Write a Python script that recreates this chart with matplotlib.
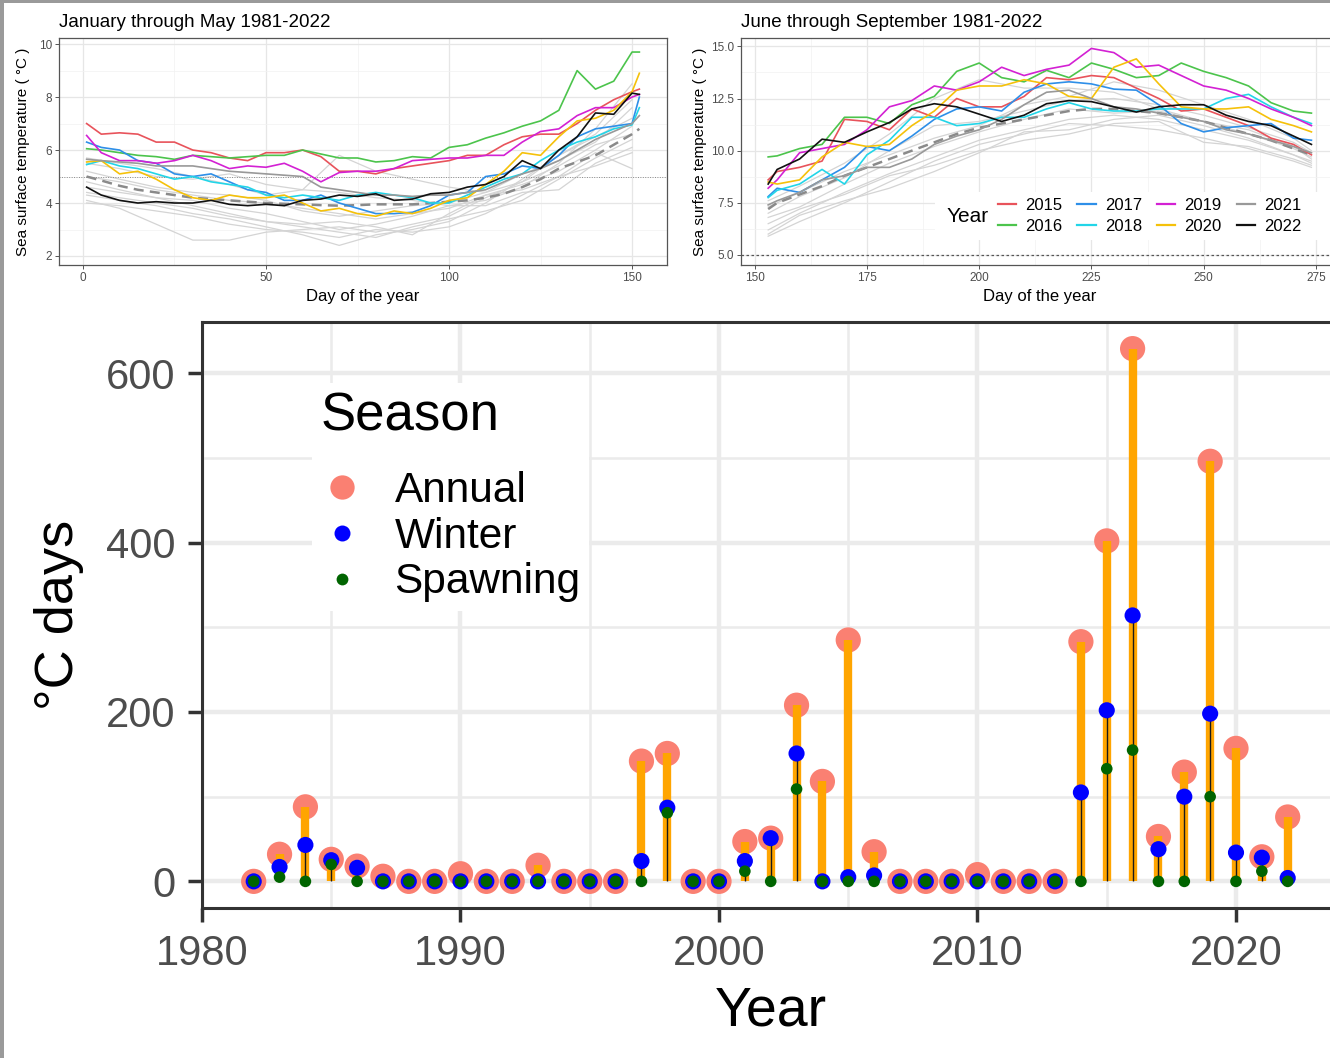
import matplotlib
matplotlib.use("Agg")
import matplotlib.pyplot as plt
from matplotlib.lines import Line2D
from matplotlib.patches import Rectangle
from matplotlib.ticker import MultipleLocator

plt.rcParams['font.family'] = ['Liberation Sans', 'DejaVu Sans']

W, H = 1330, 1058

# ---------------- bottom chart data ----------------
years = list(range(1982, 2023))
annual = [0, 32, 88, 26, 18, 6, 0, 0, 9, 0, 0, 19, 0, 0, 0, 142, 151, 0, 0, 47,
          51, 208, 118, 285, 35, 0, 0, 0, 8, 0, 0, 0, 283, 402, 629, 53, 129, 496,
          157, 29, 76]
winter = [0, 17, 43, 25, 16, 0, 0, 0, 0, 0, 0, 0, 0, 0, 0, 24, 87, 0, 0, 24,
          51, 151, 0, 5, 7, 0, 0, 0, 0, 0, 0, 0, 105, 202, 314, 38, 100, 198,
          34, 28, 4]
spawning = [0, 5, 0, 20, 0, 0, 0, 0, 0, 0, 0, 0, 0, 0, 0, 0, 81, 0, 0, 12,
            0, 109, 0, 0, 0, 0, 0, 0, 0, 0, 0, 0, 0, 133, 155, 0, 0, 100,
            0, 12, 0]
season_labels = ['Annual', 'Winter', 'Spawning']

# ---------------- top-left panel data (Jan-May) ----------------
jm_days = [1, 5, 10, 15, 20, 25, 30, 35, 40, 45, 50, 55, 60, 65, 70, 75, 80, 85,
           90, 95, 100, 105, 110, 115, 120, 125, 130, 135, 140, 145, 150, 152]
jm_2015 = [7.0, 6.6, 6.65, 6.6, 6.3, 6.3, 6.0, 5.9, 5.7, 5.6, 5.9, 5.9, 6.0, 5.75, 5.2, 5.2,
           5.1, 5.3, 5.4, 5.5, 5.6, 5.8, 5.8, 6.2, 6.5, 6.6, 6.6, 7.0, 7.5, 7.9, 8.2, 8.3]
jm_2016 = [6.05, 6.0, 5.9, 5.8, 5.75, 5.65, 5.8, 5.75, 5.7, 5.75, 5.8, 5.8, 6.0, 5.85, 5.7, 5.7,
           5.55, 5.6, 5.75, 5.7, 6.1, 6.2, 6.45, 6.65, 6.9, 7.1, 7.5, 9.0, 8.3, 8.6, 9.7, 9.7]
jm_2017 = [6.3, 6.1, 6.0, 5.6, 5.5, 5.1, 5.0, 5.1, 4.8, 4.5, 4.4, 4.1, 4.1, 4.3, 4.0, 3.8,
           3.6, 3.6, 3.65, 3.9, 4.3, 4.4, 5.0, 5.1, 5.4, 5.3, 5.8, 6.5, 6.8, 6.9, 7.0, 8.0]
jm_2018 = [5.45, 5.6, 5.4, 5.3, 5.1, 4.9, 5.0, 4.8, 4.7, 4.6, 4.3, 4.2, 4.3, 4.2, 4.1, 4.3,
           4.4, 4.3, 4.2, 4.0, 4.0, 4.3, 4.6, 4.9, 5.1, 5.6, 6.0, 6.3, 6.5, 6.8, 6.95, 7.6]
jm_2019 = [6.55, 5.9, 5.6, 5.6, 5.5, 5.6, 5.8, 5.6, 5.3, 5.4, 5.35, 5.5, 5.2, 4.8, 5.15, 5.2,
           5.2, 5.3, 5.6, 5.65, 5.7, 5.7, 5.8, 5.8, 6.3, 6.7, 6.8, 7.3, 7.6, 7.6, 8.0, 8.1]
jm_2020 = [5.55, 5.6, 5.1, 5.2, 4.9, 4.5, 4.2, 4.1, 4.3, 4.2, 4.2, 4.3, 4.0, 3.7, 3.8, 3.6,
           3.5, 3.7, 3.6, 3.8, 4.1, 4.2, 4.7, 5.2, 5.9, 5.8, 6.5, 7.1, 7.2, 7.5, 8.2, 8.9]
jm_2021 = [5.65, 5.6, 5.55, 5.5, 5.4, 5.4, 5.4, 5.3, 5.2, 5.15, 5.1, 5.05, 5.0, 4.6, 4.5, 4.4,
           4.3, 4.3, 4.25, 4.3, 4.3, 4.4, 4.5, 4.8, 5.1, 5.3, 5.6, 6.0, 6.4, 6.7, 7.0, 7.3]
jm_2022 = [4.6, 4.3, 4.1, 4.0, 4.05, 4.0, 4.0, 4.1, 3.95, 3.9, 3.95, 3.9, 4.1, 4.15, 4.3, 4.25,
           4.35, 4.1, 4.15, 4.35, 4.4, 4.6, 4.7, 5.0, 5.6, 5.3, 6.0, 6.5, 7.4, 7.35, 8.15, 8.1]
jm_mean = [5.0, 4.85, 4.65, 4.5, 4.4, 4.3, 4.2, 4.15, 4.1, 4.05, 4.0, 3.97, 3.95, 3.92, 3.9, 3.92,
           3.95, 3.95, 3.95, 4.0, 4.05, 4.1, 4.2, 4.35, 4.6, 4.9, 5.3, 5.55, 5.8, 6.2, 6.6, 6.8]
jm_bg_days = [1, 10, 20, 30, 40, 50, 60, 70, 80, 90, 100, 110, 120, 130, 140, 150]
jm_bg = [
    [4.1, 3.8, 3.2, 2.6, 2.6, 2.9, 3.0, 3.1, 2.9, 3.2, 3.5, 4.2, 4.8, 5.4, 6.2, 6.6],
    [4.3, 4.1, 3.9, 3.6, 3.4, 3.1, 2.8, 2.4, 2.8, 3.0, 3.3, 4.0, 4.9, 5.8, 6.5, 7.2],
    [4.8, 4.5, 4.2, 3.9, 3.6, 3.3, 3.2, 3.3, 3.1, 2.8, 3.6, 4.3, 4.5, 5.0, 5.9, 5.3],
    [5.2, 4.9, 4.6, 4.4, 4.3, 4.1, 3.7, 3.5, 3.7, 3.9, 4.0, 4.4, 5.1, 5.6, 6.3, 7.6],
    [5.5, 5.3, 5.0, 4.9, 5.1, 4.7, 4.5, 4.4, 4.2, 4.1, 3.9, 4.1, 4.6, 5.5, 6.8, 8.5],
    [4.6, 4.4, 4.2, 4.1, 3.8, 3.6, 3.3, 3.0, 3.2, 3.5, 3.9, 3.9, 4.4, 4.5, 5.5, 6.1],
    [5.7, 5.5, 5.3, 5.0, 4.7, 4.3, 4.5, 5.8, 5.2, 4.9, 4.6, 4.4, 4.8, 5.8, 6.6, 7.9],
    [4.4, 4.2, 4.0, 3.8, 3.5, 3.3, 3.1, 2.9, 2.7, 3.1, 3.4, 3.7, 4.1, 4.9, 5.7, 6.4],
    [5.0, 4.8, 4.5, 4.3, 4.1, 4.0, 3.8, 3.6, 3.4, 3.6, 3.8, 4.3, 4.7, 5.2, 6.0, 6.9],
    [4.0, 3.9, 3.7, 3.5, 3.2, 3.0, 2.9, 2.7, 3.0, 2.9, 3.1, 3.6, 4.3, 5.0, 5.4, 5.9],
]

# ---------------- top-right panel data (Jun-Sep) ----------------
js_days = [153, 155, 160, 165, 170, 175, 180, 185, 190, 195, 200, 205, 210, 215,
           220, 225, 230, 235, 240, 245, 250, 255, 260, 265, 270, 274]
js_2015 = [8.6, 9.0, 9.2, 9.5, 11.5, 11.4, 11.0, 12.0, 11.6, 12.5, 12.1, 12.1, 12.6, 13.5,
           13.4, 13.6, 13.5, 13.0, 12.5, 11.9, 12.0, 11.6, 11.2, 10.6, 10.3, 9.8]
js_2016 = [9.7, 9.75, 10.1, 10.3, 11.6, 11.6, 11.3, 12.2, 12.6, 13.8, 14.2, 13.5, 13.3, 13.85,
           13.5, 14.2, 13.9, 13.5, 13.6, 14.2, 13.8, 13.5, 13.1, 12.3, 11.9, 11.8]
js_2017 = [7.8, 8.2, 8.0, 8.6, 9.2, 10.2, 10.0, 10.7, 11.5, 12.0, 12.1, 11.9, 12.8, 13.2,
           13.3, 13.2, 12.95, 12.9, 12.2, 11.3, 10.9, 11.1, 11.2, 11.3, 10.6, 10.5]
js_2018 = [7.75, 8.1, 8.4, 9.1, 8.4, 9.8, 10.5, 11.6, 11.6, 11.2, 11.3, 11.6, 11.6, 12.0,
           12.3, 12.0, 11.9, 11.9, 12.0, 12.0, 12.0, 12.5, 12.7, 12.1, 11.6, 11.3]
js_2019 = [8.2, 8.6, 9.9, 10.1, 10.3, 11.0, 12.1, 12.4, 13.1, 12.9, 13.3, 14.0, 13.6, 13.9,
           14.1, 14.9, 14.7, 14.0, 14.1, 13.6, 13.1, 12.9, 12.5, 12.0, 11.6, 11.2]
js_2020 = [8.5, 8.4, 8.6, 9.7, 10.4, 10.2, 10.3, 11.2, 11.9, 12.9, 13.1, 13.1, 13.4, 13.2,
           12.6, 12.5, 14.0, 14.4, 13.2, 12.1, 12.0, 12.0, 12.1, 11.5, 11.2, 10.9]
js_2021 = [7.4, 7.6, 8.0, 8.6, 8.8, 9.2, 9.2, 9.6, 10.3, 10.7, 11.0, 11.5, 12.2, 12.8,
           12.9, 12.5, 12.1, 12.0, 11.8, 11.6, 11.4, 11.0, 10.8, 10.5, 10.2, 9.9]
js_2022 = [8.4, 9.1, 9.6, 10.55, 10.4, 10.9, 11.35, 12.0, 12.25, 12.1, 11.75, 11.4, 11.7, 12.25,
           12.4, 12.35, 12.1, 11.85, 12.1, 12.2, 12.2, 11.7, 11.4, 11.2, 10.7, 10.3]
js_mean = [7.2, 7.5, 7.9, 8.3, 8.8, 9.2, 9.6, 10.0, 10.4, 10.8, 11.1, 11.3, 11.5, 11.7,
           11.9, 12.0, 12.0, 11.9, 11.8, 11.6, 11.4, 11.1, 10.8, 10.5, 10.1, 9.8]
js_bg_days = [153, 160, 170, 180, 190, 200, 210, 220, 230, 240, 250, 260, 270, 274]
js_bg = [
    [5.9, 6.6, 7.5, 8.5, 9.5, 10.3, 10.8, 11.3, 11.2, 11.0, 10.6, 10.1, 9.5, 9.2],
    [6.2, 7.0, 8.0, 8.9, 9.7, 10.5, 11.0, 11.5, 11.7, 11.5, 11.0, 10.5, 9.8, 9.5],
    [6.8, 7.3, 8.4, 9.4, 10.2, 10.9, 11.5, 12.0, 11.8, 11.9, 11.4, 10.8, 10.1, 9.7],
    [7.0, 7.8, 8.7, 10.0, 11.2, 11.4, 11.9, 12.4, 12.5, 12.2, 11.7, 11.1, 10.4, 9.9],
    [7.6, 8.3, 9.4, 10.8, 12.5, 13.4, 13.0, 13.0, 12.8, 12.0, 11.4, 11.0, 10.2, 9.6],
    [6.5, 7.2, 7.9, 8.8, 9.3, 10.0, 10.5, 10.8, 11.3, 11.4, 10.4, 10.2, 9.6, 9.3],
    [7.3, 8.0, 9.0, 9.8, 10.6, 11.2, 12.2, 12.6, 13.3, 12.9, 12.2, 11.5, 10.6, 10.0],
    [6.0, 6.9, 7.6, 8.2, 9.0, 9.9, 10.9, 11.0, 11.5, 11.7, 11.2, 10.6, 9.8, 9.4],
]

year_names = ['2015', '2016', '2017', '2018', '2019', '2020', '2021', '2022']
year_colors = ['#E8535B', '#4CC44C', '#2E8FE8', '#22D5E8', '#D321D3', '#F5C10A', '#999999', '#111111']

fig = plt.figure(figsize=(W / 100, H / 100), dpi=100)
fig.patch.set_facecolor('white')

# screenshot border strips
fig.patches.append(Rectangle((0, 1 - 3 / H), 1, 3 / H, transform=fig.transFigure,
                             facecolor='#9a9a9a', edgecolor='none', zorder=10))
fig.patches.append(Rectangle((0, 0), 4 / W, 1, transform=fig.transFigure,
                             facecolor='#9a9a9a', edgecolor='none', zorder=10))


def style_small(ax):
    ax.set_facecolor('white')
    for s in ax.spines.values():
        s.set_color('#555555')
        s.set_linewidth(0.9)
    ax.grid(which='major', color='#e6e6e6', lw=0.9, zorder=0)
    ax.grid(which='minor', color='#f2f2f2', lw=0.5, zorder=0)
    ax.tick_params(which='major', length=3, width=0.7, color='#555555',
                   labelsize=8.5, labelcolor='#4d4d4d', pad=2)
    ax.tick_params(which='minor', length=0)
    ax.set_axisbelow(True)


# ---------------- top-left panel ----------------
axl = fig.add_axes([59 / W, (H - 265) / H, 608 / W, 227 / H])
style_small(axl)
axl.set_xlim(-6.55, 159.55)
axl.set_ylim(1.66, 10.23)
axl.xaxis.set_major_locator(MultipleLocator(50))
axl.xaxis.set_minor_locator(MultipleLocator(25))
axl.yaxis.set_major_locator(MultipleLocator(2))
axl.yaxis.set_minor_locator(MultipleLocator(1))
for row in jm_bg:
    axl.plot(jm_bg_days, row, color='#d4d4d4', lw=0.9, zorder=1)
axl.axhline(5, color='#888888', lw=0.7, ls=(0, (1, 1.5)), zorder=1)
axl.plot(jm_days, jm_mean, color='#8a8a8a', lw=1.8, ls=(0, (4, 2.5)), zorder=2)
jm_series = [jm_2015, jm_2016, jm_2017, jm_2018, jm_2019, jm_2020, jm_2021, jm_2022]
for vals, c in zip(jm_series, year_colors):
    axl.plot(jm_days, vals, color=c, lw=1.2, zorder=3)
axl.set_title('January through May 1981-2022', loc='left', fontsize=13.5, pad=8)
axl.set_xlabel('Day of the year', fontsize=12, labelpad=4)
axl.set_ylabel('Sea surface temperature ( °C )', fontsize=11, labelpad=6)

# ---------------- top-right panel ----------------
axr = fig.add_axes([741 / W, (H - 265) / H, 597.6 / W, 227 / H])
style_small(axr)
axr.spines['right'].set_visible(False)
axr.set_xlim(146.95, 280.05)
axr.set_ylim(4.52, 15.4)
axr.xaxis.set_major_locator(MultipleLocator(25))
axr.xaxis.set_minor_locator(MultipleLocator(12.5))
axr.yaxis.set_major_locator(MultipleLocator(2.5))
axr.yaxis.set_minor_locator(MultipleLocator(1.25))
axr.yaxis.set_major_formatter(matplotlib.ticker.FormatStrFormatter('%.1f'))
for row in js_bg:
    axr.plot(js_bg_days, row, color='#d4d4d4', lw=0.9, zorder=1)
axr.axhline(5, color='#555555', lw=0.9, ls=(0, (2, 2)), zorder=1)
axr.plot(js_days, js_mean, color='#8a8a8a', lw=1.8, ls=(0, (4, 2.5)), zorder=2)
js_series = [js_2015, js_2016, js_2017, js_2018, js_2019, js_2020, js_2021, js_2022]
for vals, c in zip(js_series, year_colors):
    axr.plot(js_days, vals, color=c, lw=1.2, zorder=3)
axr.set_title('June through September 1981-2022', loc='left', fontsize=13.5, pad=8)
axr.set_xlabel('Day of the year', fontsize=12, labelpad=4)
axr.set_ylabel('Sea surface temperature ( °C )', fontsize=11, labelpad=3)

# legend box
axr.add_patch(Rectangle((935 / W, (H - 240) / H), 400 / W, 48 / H, transform=fig.transFigure,
                        facecolor='white', edgecolor='none', zorder=5))
fig.text(947 / W, 1 - 216 / H, 'Year', fontsize=15, va='center', ha='left', zorder=12)
yh = [Line2D([], [], color=c, lw=1.6) for c in year_colors]
legr = axr.legend(yh, year_names, ncol=4, loc='center left',
                  bbox_to_anchor=(996 / W, 1 - 216 / H), bbox_transform=fig.transFigure,
                  fontsize=12, frameon=False, handlelength=1.1, handletextpad=0.55,
                  columnspacing=0.9, labelspacing=0.35, borderpad=0.1, borderaxespad=0)
legr.set_zorder(12)

# ---------------- bottom chart ----------------
axb = fig.add_axes([202 / W, (H - 908) / H, 1137.4 / W, 586 / H])
axb.set_xlim(1980, 2024)
axb.set_ylim(-31.45, 660.45)
axb.xaxis.set_major_locator(MultipleLocator(10))
axb.xaxis.set_minor_locator(MultipleLocator(5))
axb.yaxis.set_major_locator(MultipleLocator(200))
axb.yaxis.set_minor_locator(MultipleLocator(100))
axb.grid(which='major', color='#ebebeb', lw=3.2, zorder=0)
axb.grid(which='minor', color='#ebebeb', lw=1.8, zorder=0)
axb.set_axisbelow(True)
for s in axb.spines.values():
    s.set_color('#333333')
    s.set_linewidth(2.2)
axb.tick_params(which='major', length=10, width=2.5, color='#333333',
                labelsize=30, labelcolor='#4d4d4d', pad=9)
axb.tick_params(which='minor', length=0)

axb.scatter(years, annual, s=330, color='#FA8072', edgecolors='none', zorder=2)
axb.vlines(years, 0, annual, color='#FFA500', lw=6, zorder=3)
axb.vlines(years, 0, winter, color='#1a1a1a', lw=1.0, zorder=4)
axb.scatter(years, winter, s=135, color='#0000FF', edgecolors='none', zorder=5)
axb.scatter(years, spawning, s=70, color='#006400', edgecolors='none', zorder=6)

axb.set_xlabel('Year', fontsize=40, labelpad=8)
axb.set_ylabel('°C days', fontsize=39, labelpad=16)

sh = [Line2D([], [], ls='', marker='o', ms=17.5, mfc='#FA8072', mec='none'),
      Line2D([], [], ls='', marker='o', ms=11.5, mfc='#0000FF', mec='none'),
      Line2D([], [], ls='', marker='o', ms=8.5, mfc='#006400', mec='none')]
legb = axb.legend(sh, season_labels, title='Season', loc='upper left',
                  bbox_to_anchor=(312 / W, 1 - 383 / H), bbox_transform=fig.transFigure,
                  fontsize=30.5, title_fontsize=38, frameon=True, fancybox=False,
                  facecolor='white', edgecolor='none', framealpha=1,
                  alignment='left', handlelength=1.0, handletextpad=0.75,
                  labelspacing=0.14, borderpad=0.2, borderaxespad=0)
legb._legend_box.sep = 21
legb.set_zorder(10)

fig.savefig('out.png', dpi=100)
